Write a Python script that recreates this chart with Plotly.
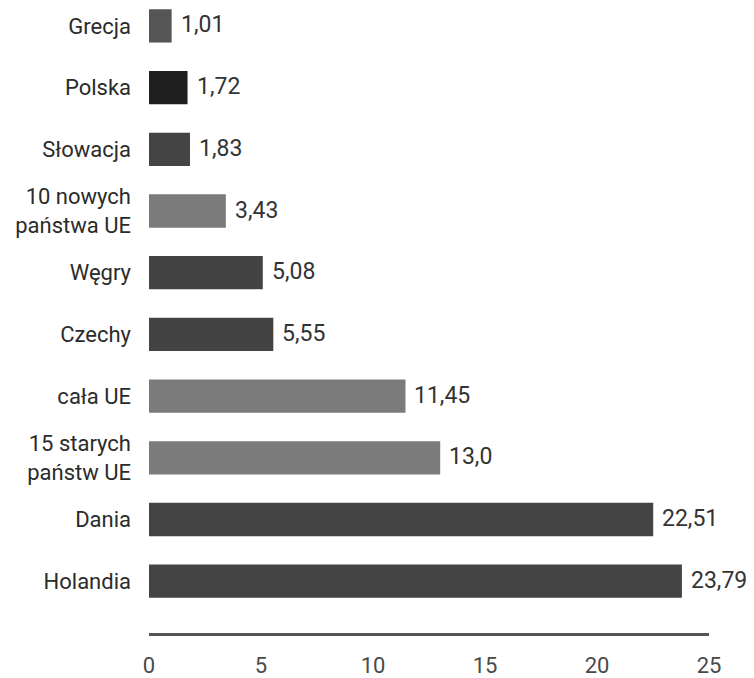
import plotly.graph_objects as go

# Udział (w %) – kategorie od góry do dołu
categories = [
    "Grecja",
    "Polska",
    "Słowacja",
    "10 nowych<br>państwa UE",
    "Węgry",
    "Czechy",
    "cała UE",
    "15 starych<br>państw UE",
    "Dania",
    "Holandia",
]
values = [1.01, 1.72, 1.83, 3.43, 5.08, 5.55, 11.45, 13.0, 22.51, 23.79]
decimals = [2, 2, 2, 2, 2, 2, 2, 1, 2, 2]
bar_colors = [
    "#555555", "#1f1f1f", "#444444", "#7b7b7b", "#434343",
    "#434343", "#7b7b7b", "#7b7b7b", "#444444", "#444444",
]
x_ticks = [0, 5, 10, 15, 20, 25]

labels = [f"{v:.{d}f}".replace(".", ",") for v, d in zip(values, decimals)]

FONT = "Roboto, sans-serif"

fig = go.Figure(
    go.Bar(
        x=values,
        y=categories,
        orientation="h",
        marker=dict(color=bar_colors, line=dict(width=0)),
        width=0.54,
        hoverinfo="skip",
    )
)

# value labels placed just right of each bar end
for cat, v, lab in zip(categories, values, labels):
    fig.add_annotation(
        x=v,
        y=cat,
        text=lab,
        showarrow=False,
        xanchor="left",
        yanchor="middle",
        xshift=7,
        yshift=1,
        font=dict(family=FONT, size=23, color="#333333"),
    )

fig.update_layout(
    width=754,
    height=678,
    margin=dict(l=149, r=45, t=0, b=45, autoexpand=False),
    paper_bgcolor="white",
    plot_bgcolor="white",
    showlegend=False,
    xaxis=dict(
        range=[0, 25],
        tickvals=x_ticks,
        ticktext=[str(t) for t in x_ticks],
        showgrid=False,
        zeroline=False,
        showline=True,
        linecolor="#555555",
        linewidth=3,
        ticks="",
        ticklabelstandoff=11,
        tickfont=dict(family=FONT, size=22, color="#4a4a4a"),
        automargin=False,
        fixedrange=True,
    ),
    yaxis=dict(
        type="category",
        range=[9.84, -0.42],
        showgrid=False,
        zeroline=False,
        showline=False,
        ticks="",
        ticklabelstandoff=17,
        tickfont=dict(family=FONT, size=22, color="#2b2b2b"),
        automargin=False,
        fixedrange=True,
    ),
)

fig.write_html("out.html")
